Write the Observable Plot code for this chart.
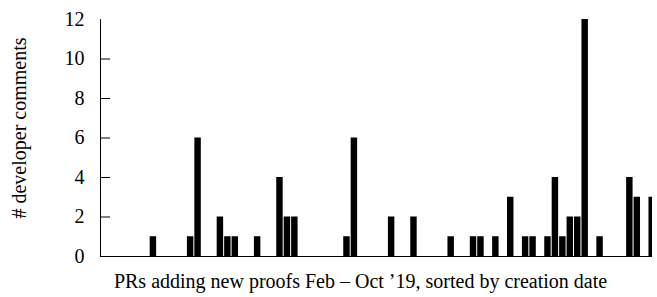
<!DOCTYPE html>
<html><head><meta charset="utf-8">
<script src="https://cdn.jsdelivr.net/npm/d3@7"></script>
<script src="https://cdn.jsdelivr.net/npm/@observablehq/plot@0.6"></script>
<style>body{margin:0;background:#fff}</style>
</head><body><div id="chart"></div>
<script>
// developer comments per PR (index = PR sorted by creation date)
const comments = [1,0,0,0,0,1,6,0,0,2,1,1,0,0,1,0,0,4,2,2,0,0,0,0,0,0,1,6,0,0,0,0,2,0,0,2,0,0,0,0,1,0,0,1,1,0,1,0,3,0,1,1,0,1,4,1,2,2,12,0,1,0,0,0,4,3,0,3];
const yTicks = [0,2,4,6,8,10,12];
const xLabel = "PRs adding new proofs Feb – Oct ’19, sorted by creation date";
const yLabel = "# developer comments";

const data = comments.map((c, i) => ({pr: i, comments: c})).filter(d => d.comments > 0);
const xMin = -6.54, xMax = 67.61;
const W = 657, H = 297, mL = 100, mR = 5, mT = 19, mB = 41;

const chart = Plot.plot({
  width: W, height: H,
  marginLeft: mL, marginRight: mR, marginTop: mT, marginBottom: mB,
  style: {fontFamily: "'Liberation Serif', 'Times New Roman', serif", fontSize: "20px", color: "black", background: "white"},
  x: {domain: [xMin, xMax], axis: null},
  y: {domain: [0, 12]},
  marks: [
    Plot.rectY(data, {x: "pr", interval: 1, y: "comments", fill: "black", clip: true}),
    Plot.ruleY([0], {stroke: "black"}),
    Plot.ruleX([xMin], {stroke: "black"}),
    Plot.tickY(yTicks.filter(t => t > 0 && t < 12), {y: d => d, stroke: "black", insetRight: W - mL - mR - 10}),
    Plot.axisY({ticks: yTicks, tickSize: 0, tickPadding: 16, label: null, fontSize: 20}),
    Plot.text([yLabel], {text: d => d, frameAnchor: "left", textAnchor: "middle", lineAnchor: "middle", rotate: -90, dx: -81, dy: -10, fontSize: 20, fill: "black"}),
    Plot.text([xLabel], {text: d => d, frameAnchor: "bottom", textAnchor: "middle", lineAnchor: "middle", dx: -16, dy: 25, fontSize: 20, fill: "black"})
  ]
});
document.getElementById("chart").appendChild(chart);
</script>
</body></html>
